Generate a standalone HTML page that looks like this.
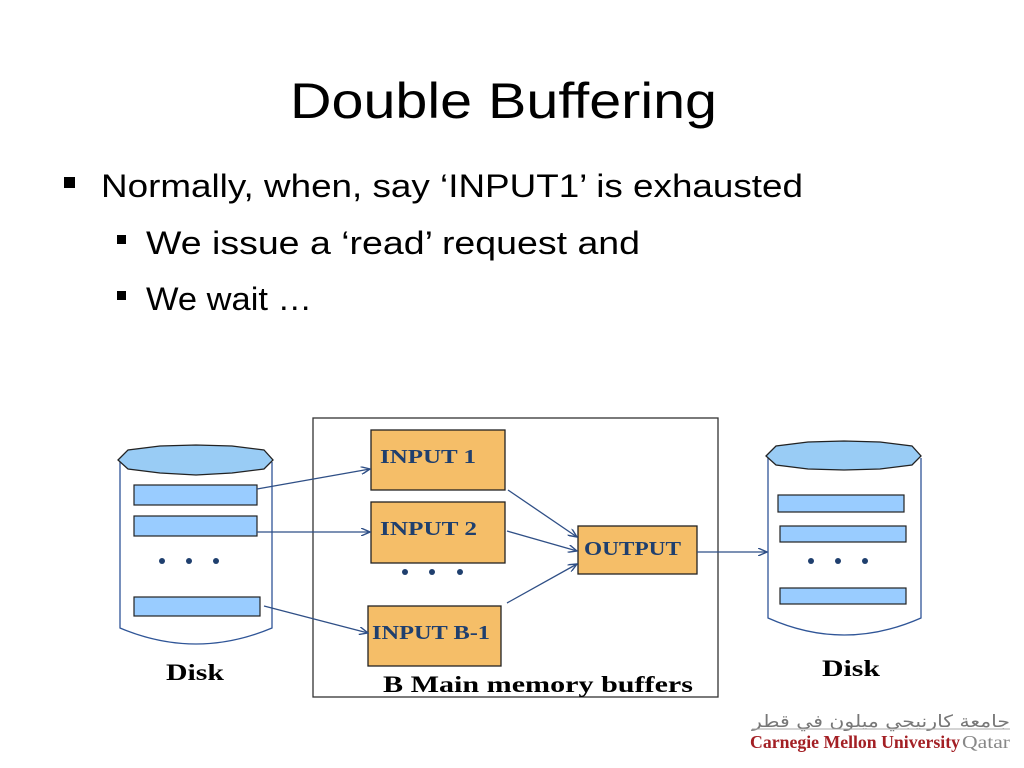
<!DOCTYPE html>
<html><head><meta charset="utf-8"><style>
html,body{margin:0;padding:0;background:#fff;}
svg{display:block}
</style></head><body>
<svg width="1024" height="768" viewBox="0 0 1024 768" xmlns="http://www.w3.org/2000/svg">
<defs>
<marker id="ar" markerWidth="10" markerHeight="8" refX="9" refY="4" orient="auto" markerUnits="userSpaceOnUse">
<path d="M0,0 L9,4 L0,8" fill="none" stroke="#2f4f86" stroke-width="1.4"/>
</marker>
</defs>
<text x="290" y="118" font-family="Liberation Sans, sans-serif" font-size="50" textLength="427" lengthAdjust="spacingAndGlyphs" fill="#000">Double Buffering</text>
<rect x="64" y="177" width="11" height="11" fill="#000"/>
<text x="101" y="197" font-family="Liberation Sans, sans-serif" font-size="32" textLength="702" lengthAdjust="spacingAndGlyphs">Normally, when, say ‘INPUT1’ is exhausted</text>
<rect x="117" y="235" width="9" height="9" fill="#000"/>
<text x="146" y="254" font-family="Liberation Sans, sans-serif" font-size="32" textLength="494" lengthAdjust="spacingAndGlyphs">We issue a ‘read’ request and</text>
<rect x="117" y="291" width="9" height="9" fill="#000"/>
<text x="146" y="310" font-family="Liberation Sans, sans-serif" font-size="32" textLength="166" lengthAdjust="spacingAndGlyphs">We wait …</text>

<!-- left disk -->
<path d="M120,462 L120,628 Q196,660 272,628 L272,462" fill="#fff" stroke="#2f5597" stroke-width="1.3"/>
<path d="M118,460 L128,450 L160,446 L196,445 L232,446 L264,450 L273,460 L264,469 L232,473 L196,475 L160,473 L128,469 Z" fill="#99ccf5" stroke="#222" stroke-width="1.3"/>
<rect x="134" y="485" width="123" height="20" fill="#99ccff" stroke="#222" stroke-width="1.2"/>
<rect x="134" y="516" width="123" height="20" fill="#99ccff" stroke="#222" stroke-width="1.2"/>
<rect x="134" y="597" width="126" height="19" fill="#99ccff" stroke="#222" stroke-width="1.2"/>
<g fill="#1f3f6e"><circle cx="162" cy="561" r="3"/><circle cx="189" cy="561" r="3"/><circle cx="216" cy="561" r="3"/></g>
<text x="166" y="680" font-family="Liberation Serif, serif" font-weight="bold" font-size="23" textLength="58" lengthAdjust="spacingAndGlyphs">Disk</text>

<!-- memory box -->
<rect x="313" y="418" width="405" height="279" fill="none" stroke="#333" stroke-width="1.3"/>
<g fill="#f5be68" stroke="#222" stroke-width="1.3">
<rect x="371" y="430" width="134" height="60"/>
<rect x="371" y="502" width="134" height="61"/>
<rect x="368" y="606" width="133" height="60"/>
<rect x="578" y="526" width="119" height="48"/>
</g>
<g font-family="Liberation Serif, serif" font-weight="bold" font-size="20" fill="#1f3f6e">
<text x="380" y="463" textLength="96" lengthAdjust="spacingAndGlyphs">INPUT 1</text>
<text x="380" y="535" textLength="97" lengthAdjust="spacingAndGlyphs">INPUT 2</text>
<text x="372" y="639" textLength="118" lengthAdjust="spacingAndGlyphs">INPUT B-1</text>
<text x="584" y="555" textLength="97" lengthAdjust="spacingAndGlyphs">OUTPUT</text>
</g>
<g fill="#1f3f6e"><circle cx="405" cy="572" r="3"/><circle cx="432" cy="572" r="3"/><circle cx="460" cy="572" r="3"/></g>
<text x="383" y="692" font-family="Liberation Serif, serif" font-weight="bold" font-size="23" textLength="310" lengthAdjust="spacingAndGlyphs">B Main memory buffers</text>

<!-- arrows -->
<g stroke="#2f4f86" stroke-width="1.3" marker-end="url(#ar)" fill="none">
<line x1="257" y1="489" x2="370" y2="469"/>
<line x1="257" y1="532" x2="370" y2="532"/>
<line x1="264" y1="606" x2="368" y2="633"/>
<line x1="508" y1="490" x2="577" y2="537"/>
<line x1="507" y1="531" x2="577" y2="551"/>
<line x1="507" y1="603" x2="577" y2="564"/>
<line x1="697" y1="552" x2="767" y2="552"/>
</g>

<!-- right disk -->
<path d="M768,458 L768,618 Q844,652 921,618 L921,458" fill="#fff" stroke="#2f5597" stroke-width="1.3"/>
<path d="M766,456 L776,446 L808,442 L844,441 L880,442 L912,446 L921,456 L912,465 L880,469 L844,470 L808,469 L776,465 Z" fill="#99ccf5" stroke="#222" stroke-width="1.3"/>
<rect x="778" y="495" width="126" height="17" fill="#99ccff" stroke="#222" stroke-width="1.2"/>
<rect x="780" y="526" width="126" height="16" fill="#99ccff" stroke="#222" stroke-width="1.2"/>
<rect x="780" y="588" width="126" height="16" fill="#99ccff" stroke="#222" stroke-width="1.2"/>
<g fill="#1f3f6e"><circle cx="811" cy="561" r="3"/><circle cx="838" cy="561" r="3"/><circle cx="865" cy="561" r="3"/></g>
<text x="822" y="676" font-family="Liberation Serif, serif" font-weight="bold" font-size="23" textLength="58" lengthAdjust="spacingAndGlyphs">Disk</text>

<!-- logo -->
<text x="1010" y="727" text-anchor="end" font-family="DejaVu Sans, sans-serif" font-size="17" fill="#777" textLength="258" lengthAdjust="spacingAndGlyphs">جامعة كارنيجي ميلون في قطر</text>
<line x1="752" y1="729" x2="1010" y2="729" stroke="#aaa" stroke-width="1"/>
<text x="750" y="748" font-family="Liberation Serif, serif" font-weight="bold" font-size="18" fill="#a31f24" textLength="210" lengthAdjust="spacingAndGlyphs">Carnegie Mellon University</text>
<text x="962" y="748" font-family="Liberation Serif, serif" font-size="18" fill="#888" textLength="48" lengthAdjust="spacingAndGlyphs">Qatar</text>
</svg>
</body></html>
